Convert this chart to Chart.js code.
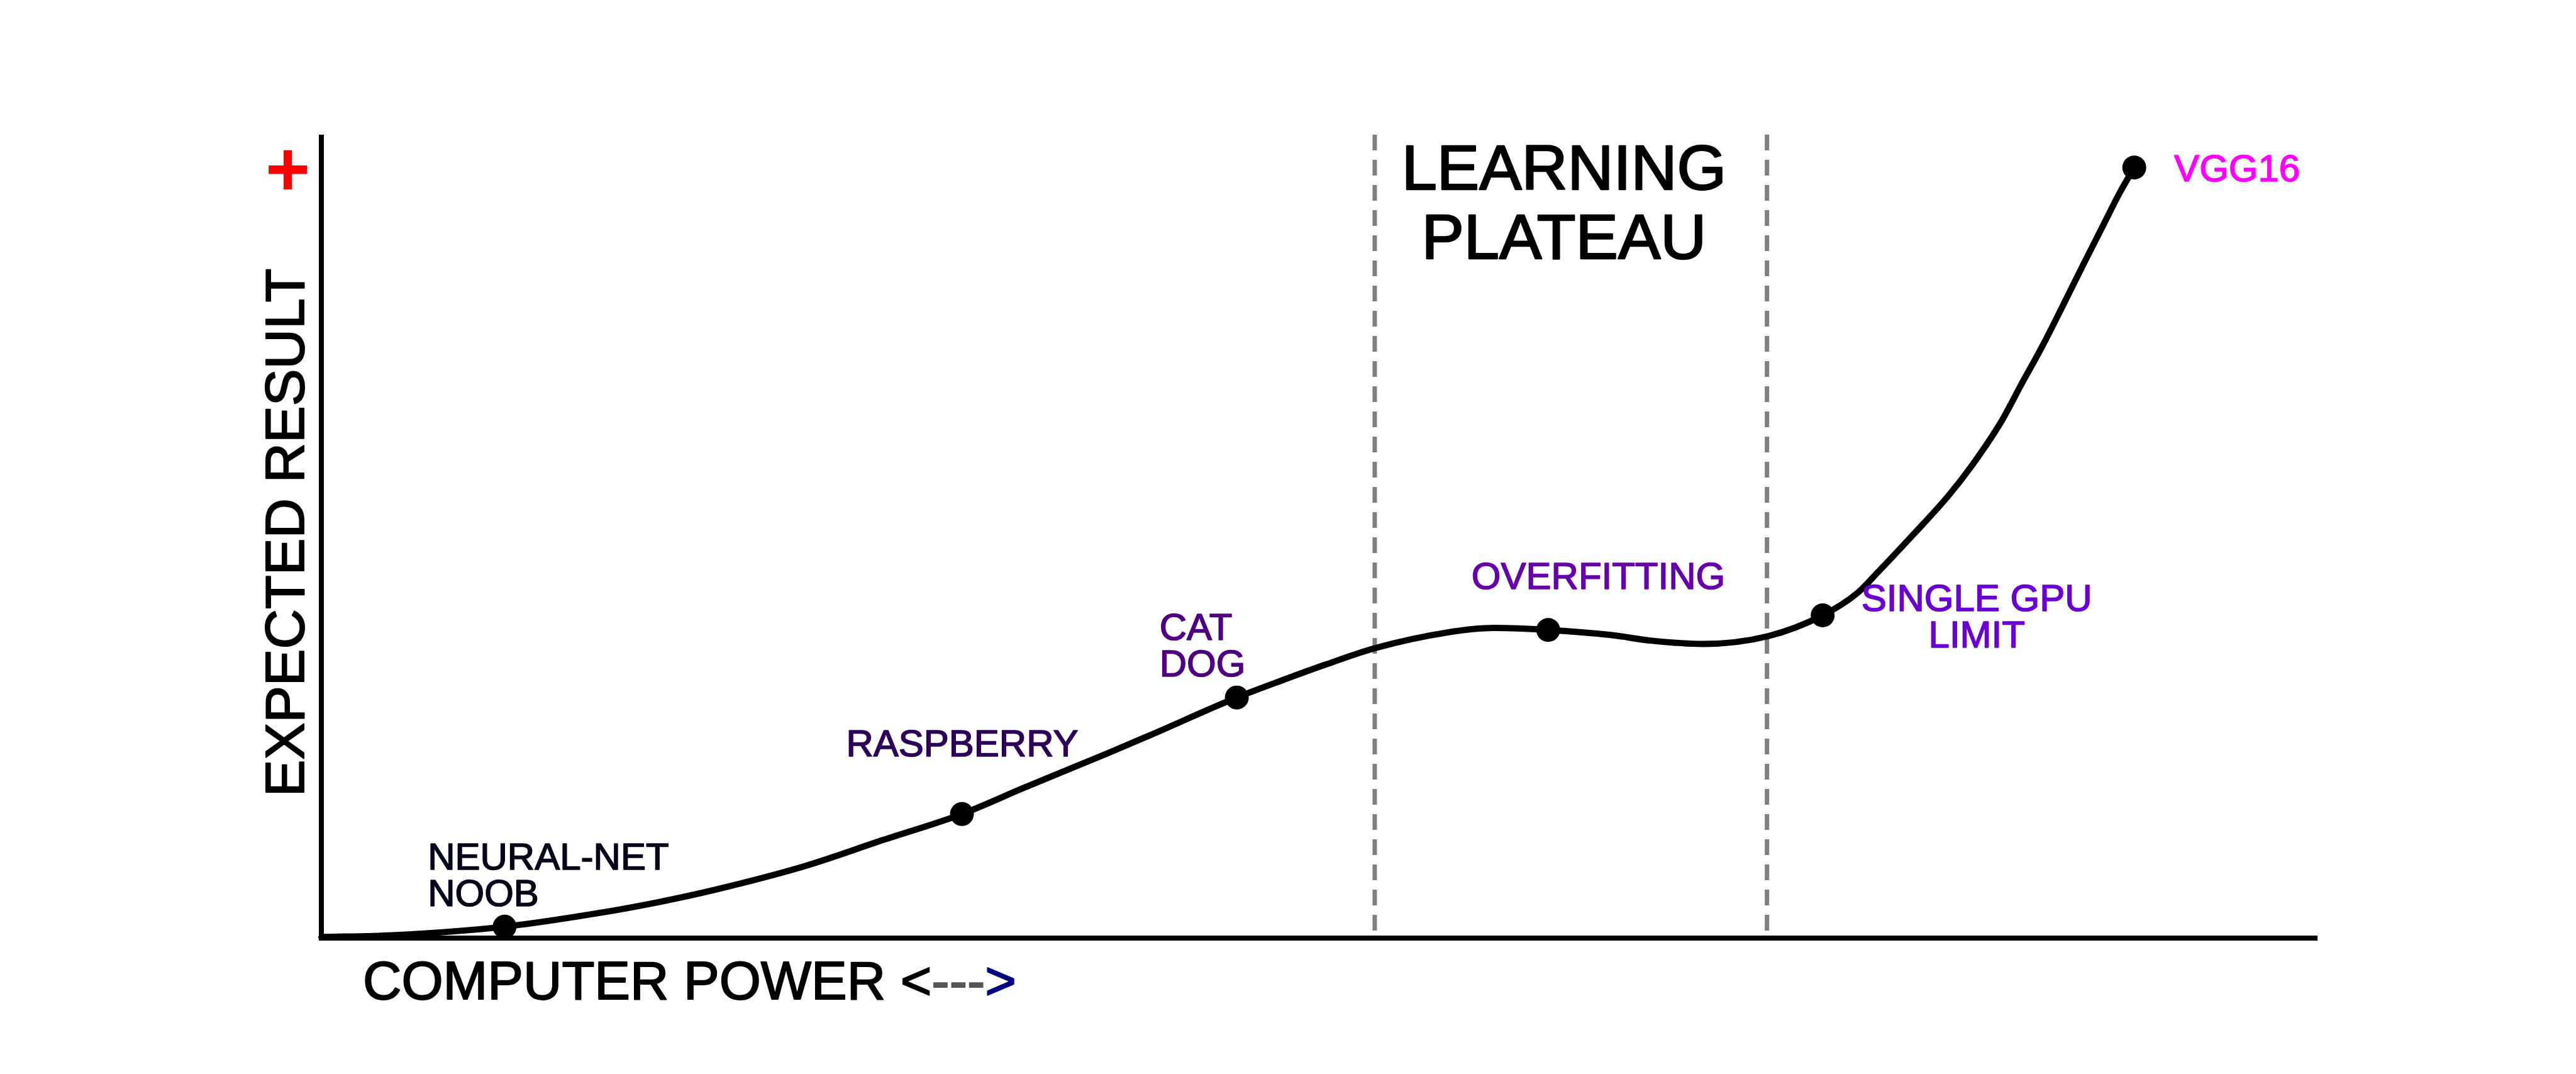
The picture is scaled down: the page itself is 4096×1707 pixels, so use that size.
<!DOCTYPE html>
<html><head><meta charset="utf-8">
<script src="https://cdn.jsdelivr.net/npm/chart.js@4/dist/chart.umd.min.js"></script>
<style>html,body{margin:0;padding:0;background:#fff;overflow:hidden}#wrap{width:4096px;height:1707px}</style>
</head><body><div id="wrap"><canvas id="c" width="4096" height="1707"></canvas></div>
<script>
// ---- data ----
const curveX = [0, 3.58, 9.18, 13.85, 16.93, 19.69, 24.2, 28.16, 32.09, 35.1, 39.38, 41.47, 45.86, 48.26, 50.26, 52.80, 56.38, 58.74, 61.46, 64.60, 66.66, 69.21, 72.49, 75.21, 76.96, 77.98, 79.74, 81.49, 82.71, 84.16, 85.18, 86.22, 87.24, 88.26, 89.30, 90.12, 90.82];
const curveY = [0.13, 0.36, 1.42, 3.1, 4.5, 6.0, 8.95, 12.23, 15.44, 18.6, 23.0, 25.2, 29.94, 32.2, 34.0, 36.1, 38.03, 38.60, 38.35, 37.72, 37.01, 36.61, 37.59, 40.17, 42.97, 45.55, 50.2, 55.0, 58.9, 64.3, 69.0, 73.7, 78.7, 83.8, 88.9, 92.9, 95.91];
const markX = [9.18, 32.09, 45.86, 61.46, 75.21, 90.82];
const markY = [1.42, 15.44, 29.94, 38.35, 40.17, 95.91];
const markLabels = [["NEURAL-NET", "NOOB"], ["RASPBERRY"], ["CAT", "DOG"], ["OVERFITTING"], ["SINGLE GPU", "LIMIT"], ["VGG16"]];
const plateauX = [52.77, 72.42];
const plateauLabel = ["LEARNING", "PLATEAU"];
const xTitle = ["COMPUTER POWER ", "<", "---", ">"];
const yTitle = "EXPECTED RESULT";
const yTopMark = "+";

// ---- layout / style (not data) ----
const FONT = '"Liberation Sans", Arial, sans-serif';
const labelLayout = {
  x: [5.33, 26.29, 41.99, 57.62, 82.93, 92.82],
  y: [8.54, 22.6, 37.14, 43.5, 40.70, 94.2],
  align: ['left', 'left', 'left', 'left', 'center', 'left'],
  color: ['#05051a', '#2d0059', '#4e0080', '#6600aa', '#6a00d2', '#ff00ff'],
  size: 60, lineH: 58
};
const plateauLayout = { x: 62.25, y: 93.19, size: 101, lineH: 110 };

function heavyText(ctx, t, x, y, w) {
  ctx.lineWidth = w;
  ctx.lineJoin = 'round';
  ctx.strokeStyle = ctx.fillStyle;
  ctx.strokeText(t, x, y);
  ctx.fillText(t, x, y);
}

const sketchPlugin = {
  id: 'sketch',
  beforeDatasetsDraw(chart) {
    const { ctx, chartArea: a, scales: { x } } = chart;
    ctx.save();
    ctx.strokeStyle = '#808080';
    ctx.lineWidth = 7;
    ctx.setLineDash([25, 15]);
    plateauX.forEach(v => {
      const px = x.getPixelForValue(v);
      ctx.beginPath(); ctx.moveTo(px, a.top); ctx.lineTo(px, a.bottom); ctx.stroke();
    });
    ctx.setLineDash([]);
    ctx.strokeStyle = '#000';
    ctx.lineWidth = 8;
    ctx.lineCap = 'butt';
    ctx.beginPath(); ctx.moveTo(a.left, a.top); ctx.lineTo(a.left, a.bottom + 4); ctx.stroke();
    ctx.beginPath(); ctx.moveTo(a.left, a.bottom); ctx.lineTo(a.right, a.bottom); ctx.stroke();
    ctx.restore();
  },
  afterDraw(chart) {
    const { ctx, chartArea: a, scales: { x, y } } = chart;
    ctx.save();
    ctx.textBaseline = 'alphabetic';
    ctx.font = `${labelLayout.size}px ${FONT}`;
    markLabels.forEach((lines, i) => {
      const px = x.getPixelForValue(labelLayout.x[i]);
      const py = y.getPixelForValue(labelLayout.y[i]);
      ctx.fillStyle = labelLayout.color[i];
      ctx.textAlign = labelLayout.align[i];
      lines.forEach((t, j) => heavyText(ctx, t, px, py + j * labelLayout.lineH, 1.6));
    });
    ctx.font = `${plateauLayout.size}px ${FONT}`;
    ctx.fillStyle = '#000';
    ctx.textAlign = 'center';
    const ppx = x.getPixelForValue(plateauLayout.x);
    const ppy = y.getPixelForValue(plateauLayout.y);
    plateauLabel.forEach((t, j) => heavyText(ctx, t, ppx, ppy + j * plateauLayout.lineH, 2.5));
    ctx.font = `85px ${FONT}`;
    ctx.textAlign = 'left';
    const xColors = ['#000', '#000', '#555555', '#000080'];
    let cx = a.left + 66;
    const by = a.bottom + 97;
    xTitle.forEach((t, i) => {
      ctx.fillStyle = xColors[i];
      heavyText(ctx, t, cx, by, 2);
      cx += ctx.measureText(t).width;
    });
    ctx.font = `88px ${FONT}`;
    ctx.fillStyle = '#000';
    const capH = ctx.measureText('E').actualBoundingBoxAscent;
    ctx.save();
    ctx.translate(a.left - 58, (a.top + a.bottom) / 2 - 6);
    ctx.rotate(-Math.PI / 2);
    ctx.textAlign = 'center';
    heavyText(ctx, yTitle, 0, capH / 2, 2);
    ctx.restore();
    ctx.font = `bold 122px ${FONT}`;
    ctx.fillStyle = '#ff0000';
    ctx.textAlign = 'left';
    const m = ctx.measureText(yTopMark);
    const w = m.actualBoundingBoxRight + m.actualBoundingBoxLeft;
    const h = m.actualBoundingBoxAscent + m.actualBoundingBoxDescent;
    const cxp = a.left - 53, cyp = a.top + 55;
    ctx.fillText(yTopMark, cxp - w / 2 + m.actualBoundingBoxLeft, cyp - h / 2 + m.actualBoundingBoxAscent);
    ctx.restore();
  }
};

new Chart(document.getElementById('c'), {
  type: 'line',
  data: {
    datasets: [
      {
        data: curveX.map((v, i) => ({ x: v, y: curveY[i] })),
        borderColor: '#000', borderWidth: 10, pointRadius: 0, fill: false,
        cubicInterpolationMode: 'monotone', clip: false, borderCapStyle: 'round', borderJoinStyle: 'round'
      },
      {
        type: 'scatter',
        data: markX.map((v, i) => ({ x: v, y: markY[i] })),
        backgroundColor: '#000', borderWidth: 0, pointRadius: 19, clip: false
      }
    ]
  },
  options: {
    responsive: false, animation: false, devicePixelRatio: 1,
    layout: { padding: { left: 511, right: 411, top: 214, bottom: 216 } },
    scales: {
      x: { type: 'linear', min: 0, max: 100, display: false },
      y: { type: 'linear', min: 0, max: 100, display: false }
    },
    plugins: { legend: { display: false }, tooltip: { enabled: false } }
  },
  plugins: [sketchPlugin]
});
</script></body></html>
